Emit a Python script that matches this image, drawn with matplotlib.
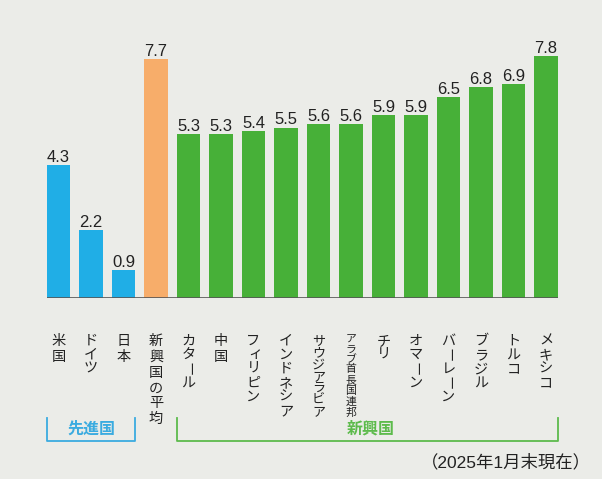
import matplotlib
matplotlib.use("Agg")
import matplotlib.pyplot as plt
from matplotlib.transforms import blended_transform_factory

plt.rcParams["font.family"] = ["Noto Sans CJK JP", "DejaVu Sans"]

# data
countries = ["米国", "ドイツ", "日本", "新興国の平均", "カタール", "中国", "フィリピン",
             "インドネシア", "サウジアラビア", "アラブ首長国連邦", "チリ", "オマーン",
             "バーレーン", "ブラジル", "トルコ", "メキシコ"]
values = [4.3, 2.2, 0.9, 7.7, 5.3, 5.3, 5.4, 5.5, 5.6, 5.6, 5.9, 5.9, 6.5, 6.8, 6.9, 7.8]
groups = ["adv", "adv", "adv", "avg"] + ["em"] * 12
group_labels = {"adv": "先進国", "em": "新興国"}
note = "（2025年1月末現在）"

BG = "#EBECE8"
BLUE = "#20AEE6"
ORANGE = "#F7AD6A"
GREEN = "#47B038"
TEXT = "#222222"
colors = {"adv": BLUE, "avg": ORANGE, "em": GREEN}
SMALL_KANA = set("ァィゥェォッャュョ")

W, H = 602, 479
fig = plt.figure(figsize=(W / 100, H / 100), dpi=100)
fig.patch.set_facecolor(BG)

# axes placed in pixels: bar 0 centre at x=58.5, pitch 32.5, baseline y=298 (from top)
ax = fig.add_axes([42.25 / W, 181 / H, 520 / W, 248 / H])
ax.set_facecolor(BG)
ax.set_xlim(-0.5, len(values) - 0.5)
ax.set_ylim(0, 8)
for s in ax.spines.values():
    s.set_visible(False)
ax.set_xticks([])
ax.set_yticks([])

bw = 0.71
x = list(range(len(values)))
ax.bar(x, values, width=bw, color=[colors[g] for g in groups], zorder=2)
ax.plot([-bw / 2, len(values) - 1 + bw / 2], [0, 0], color="#555555", lw=1.2, zorder=3,
        solid_capstyle="butt")

for xi, v in zip(x, values):
    ax.annotate(f"{v:.1f}", (xi, v), xytext=(0, 3), textcoords="offset pixels",
                ha="center", va="baseline", fontsize=12, color=TEXT,
                family=["Liberation Sans", "DejaVu Sans"])


def fy(py):
    # pixel row (from top) -> axes fraction
    return (H - py - 181) / 248


trans = blended_transform_factory(ax.transData, ax.transAxes)

# vertical (tategaki) category labels, one character at a time
top = 335
for i, (xi, name) in enumerate(zip(x, countries)):
    pitch = [16.0 if ord(c) >= 0x4E00 else 14.0 for c in name]
    glyph = 12.0
    limit = 999 if groups[i] == "avg" else 83
    span = sum(pitch[:-1]) + glyph
    size = 10.2
    if span > limit:
        k = (limit - glyph) / (span - glyph)
        pitch = [p * k for p in pitch]
        if k < 0.75:
            size, glyph = 7.8, 9.5
            k = (limit - glyph) / (sum(pitch[:-1]))
            pitch = [p * k for p in pitch]
        elif k < 0.9:
            size = 9.4
    yc = top + glyph / 2
    for c, p in zip(name, pitch):
        rot, dx, dy = 0, 0, 0
        if c == "ー":
            rot = 270
        elif c in SMALL_KANA:
            dx, dy = 2, 1
        ax.annotate(c, (xi, fy(yc)), xycoords=trans, xytext=(dx, dy),
                    textcoords="offset pixels", ha="center", va="center",
                    rotation=rot, rotation_mode="anchor", fontsize=size, color=TEXT,
                    annotation_clip=False)
        yc += p

# group brackets
brackets = [("adv", 0, 2, "#3AABE0"), ("em", 4, 15, "#5DBB4C")]
y_top, y_bot = fy(418), fy(441)
for key, i0, i1, col in brackets:
    x0, x1 = i0 - bw / 2, i1 + bw / 2
    ax.plot([x0, x0, x1, x1], [y_top, y_bot, y_bot, y_top], transform=trans,
            color=col, lw=1.3, clip_on=False)
    tx = (x0 + x1) / 2 if key == "adv" else 9.6
    ax.text(tx, fy(429), group_labels[key], transform=trans, ha="center", va="center",
            fontsize=11.5, color=col, fontweight="bold")

fig.text(591 / W, 1 - 462 / H, note, ha="right", va="center", fontsize=12.5, color=TEXT,
         family=["Liberation Sans", "Noto Sans CJK JP"])

fig.savefig("out.png", dpi=100, facecolor=BG)
